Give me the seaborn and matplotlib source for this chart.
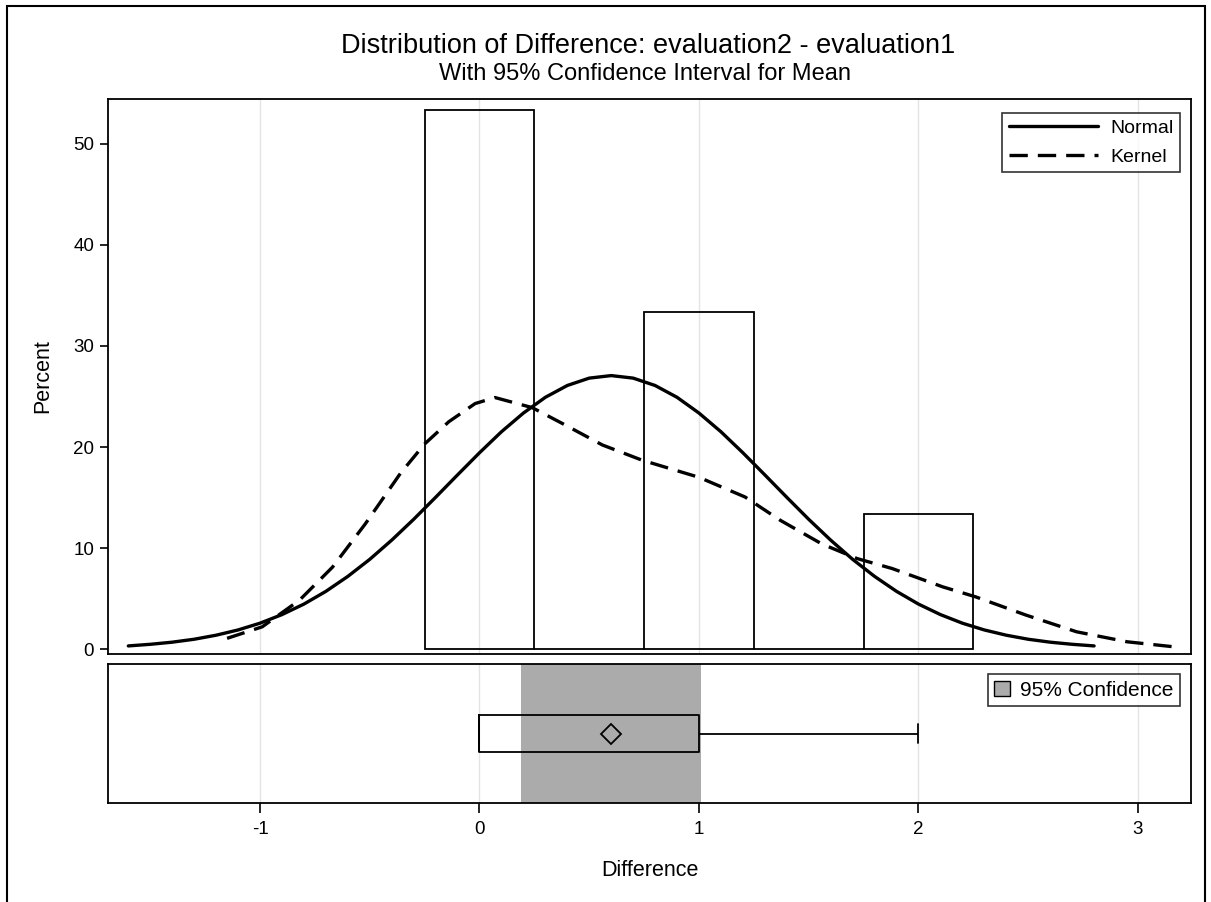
import numpy as np
import pandas as pd
import matplotlib
matplotlib.use("Agg")
import matplotlib.pyplot as plt
import seaborn as sns
from matplotlib.patches import Rectangle, Patch
from matplotlib.lines import Line2D

# ---- data ----
diff_levels = [0, 1, 2]
diff_counts = [8, 5, 2]
bin_edges = [-0.25, 0.25, 0.75, 1.25, 1.75, 2.25]

normal_x = [-1.6, -1.5, -1.4, -1.3, -1.2, -1.1, -1.0, -0.9, -0.8, -0.7, -0.6, -0.5,
            -0.4, -0.3, -0.2, -0.1, 0.0, 0.1, 0.2, 0.3, 0.4, 0.5, 0.6, 0.7, 0.8,
            0.9, 1.0, 1.1, 1.2, 1.3, 1.4, 1.5, 1.6, 1.7, 1.8, 1.9, 2.0, 2.1, 2.2,
            2.3, 2.4, 2.5, 2.6, 2.7, 2.8]
normal_y = [0.31, 0.47, 0.68, 0.97, 1.37, 1.89, 2.56, 3.41, 4.45, 5.71, 7.19, 8.88,
            10.78, 12.84, 15.02, 17.24, 19.43, 21.51, 23.36, 24.92, 26.09, 26.82, 27.07,
            26.82, 26.09, 24.92, 23.36, 21.51, 19.43, 17.24, 15.02, 12.84, 10.78, 8.88,
            7.19, 5.71, 4.45, 3.41, 2.56, 1.89, 1.37, 0.97, 0.68, 0.47, 0.31]

kernel_x = [-1.15, -0.99, -0.82, -0.67, -0.52, -0.36, -0.25, -0.14, -0.02, 0.07,
            0.24, 0.38, 0.56, 0.74, 1.0, 1.21, 1.37, 1.56, 1.72, 1.88, 2.11, 2.26,
            2.49, 2.72, 2.95, 3.16]
kernel_y = [1.06, 2.2, 4.84, 8.1, 12.4, 17.4, 20.3, 22.5, 24.3, 24.9,
            23.9, 22.3, 20.2, 18.7, 17.0, 15.05, 12.75, 10.4, 8.96, 7.97, 6.16, 5.17,
            3.36, 1.71, 0.72, 0.23]

ci_low, ci_high = 0.19, 1.01

title = "Distribution of Difference: evaluation2 - evaluation1"
subtitle = "With 95% Confidence Interval for Mean"
x_ticks = [-1, 0, 1, 2, 3]
y_ticks = [0, 10, 20, 30, 40, 50]

# ---- build ----
raw = np.repeat(diff_levels, diff_counts).astype(float)
df = pd.DataFrame({"Difference": raw})
normal_df = pd.DataFrame({"x": normal_x, "y": normal_y})
kernel_df = pd.DataFrame({"x": kernel_x, "y": kernel_y})

sns.set_theme(style="white")
plt.rcParams["font.family"] = ["Liberation Sans", "DejaVu Sans"]
plt.rcParams["text.color"] = "black"
plt.rcParams["axes.labelcolor"] = "black"
plt.rcParams["xtick.color"] = "black"
plt.rcParams["ytick.color"] = "black"

W, H = 1211, 902
fig = plt.figure(figsize=(W / 100, H / 100), dpi=100)

def fx(px):
    return px / W

def fy(py):
    return (H - py) / H

ax = fig.add_axes([fx(108), fy(654), fx(1191) - fx(108), fy(99) - fy(654)])
ax2 = fig.add_axes([fx(108), fy(803), fx(1191) - fx(108), fy(664) - fy(803)])

xlim = (-1.6925, 3.2415)
grid_c = "#E4E4E4"
dash = (0, (5.5, 3.0))
tick_fs = 13.5
label_fs = 15.5
leg_fs = 14

# histogram
sns.histplot(data=df, x="Difference", stat="percent", bins=bin_edges, fill=False,
             element="bars", color="black", linewidth=1.3, ax=ax)
for xt in x_ticks:
    ax.axvline(xt, color=grid_c, lw=1.0, zorder=0)
sns.lineplot(data=normal_df, x="x", y="y", ax=ax, color="black", lw=2.4,
             sort=False, estimator=None)
sns.lineplot(data=kernel_df, x="x", y="y", ax=ax, color="black", lw=2.4,
             sort=False, estimator=None, linestyle=dash)
ax.set_xlim(*xlim)
ax.set_ylim(-0.49, 54.45)
ax.set_yticks(y_ticks)
ax.set_xticks(x_ticks)
ax.set_xticklabels([])
ax.tick_params(axis="x", length=0)
ax.tick_params(axis="y", direction="out", length=6, width=1.2, color="black",
               labelsize=tick_fs, pad=4, left=True, labelcolor="black")
ax.set_xlabel("")
ax.set_ylabel("Percent", fontsize=label_fs, labelpad=14, color="black")
for s in ax.spines.values():
    s.set_color("black")
    s.set_linewidth(1.3)

leg = ax.legend(handles=[Line2D([], [], color="black", lw=2.4, label="Normal"),
                         Line2D([], [], color="black", lw=2.4, linestyle=dash,
                                label="Kernel")],
                loc="upper right", bbox_to_anchor=(0.9935, 0.982), fontsize=leg_fs,
                frameon=True, fancybox=False, edgecolor="black", handlelength=4.6,
                borderpad=0.35, labelspacing=0.55, handletextpad=0.6,
                borderaxespad=0.2)
leg.get_frame().set_linewidth(1.2)

# lower panel
for xt in x_ticks:
    ax2.axvline(xt, color=grid_c, lw=1.0, zorder=0)
ax2.axvspan(ci_low, ci_high, color="#ABABAB", lw=0, zorder=1)
sns.boxplot(data=df, x="Difference", ax=ax2, orient="h", width=0.8, fill=False,
            color="black", linewidth=1.3, showmeans=True, showfliers=False,
            meanprops=dict(marker="D", markerfacecolor="none", markeredgecolor="black",
                           markersize=10, markeredgewidth=1.3),
            capwidths=0.4)
ax2.set_xlim(*xlim)
ax2.set_ylim(1.5, -1.5)
ax2.set_yticks([])
ax2.set_ylabel("")
ax2.set_xticks(x_ticks)
ax2.set_xticklabels([str(v) for v in x_ticks])
ax2.tick_params(axis="x", direction="out", length=7, width=1.2, color="black",
                labelsize=tick_fs, pad=6, bottom=True, labelcolor="black")
ax2.set_xlabel("Difference", fontsize=label_fs, labelpad=16, color="black")
for s in ax2.spines.values():
    s.set_color("black")
    s.set_linewidth(1.3)

leg2 = ax2.legend(handles=[Patch(facecolor="#ABABAB", edgecolor="black", lw=1.0,
                                 label="95% Confidence")],
                  loc="upper right", bbox_to_anchor=(0.9935, 0.955), fontsize=15,
                  frameon=True, fancybox=False, edgecolor="black", handlelength=0.75,
                  handleheight=0.75, borderpad=0.3, handletextpad=0.5, borderaxespad=0.2)
leg2.get_frame().set_linewidth(1.2)

fig.text(fx(648), fy(46), title, ha="center", va="center", fontsize=19.5, color="black")
fig.text(fx(645), fy(74), subtitle, ha="center", va="center", fontsize=17, color="black")

# outer frame
fig.patches.append(Rectangle((fx(6.5), -0.1), fx(1205) - fx(6.5), fy(6) + 0.1,
                             transform=fig.transFigure, fill=False, edgecolor="black",
                             lw=1.5, zorder=10))

fig.savefig("out.png", dpi=100)
